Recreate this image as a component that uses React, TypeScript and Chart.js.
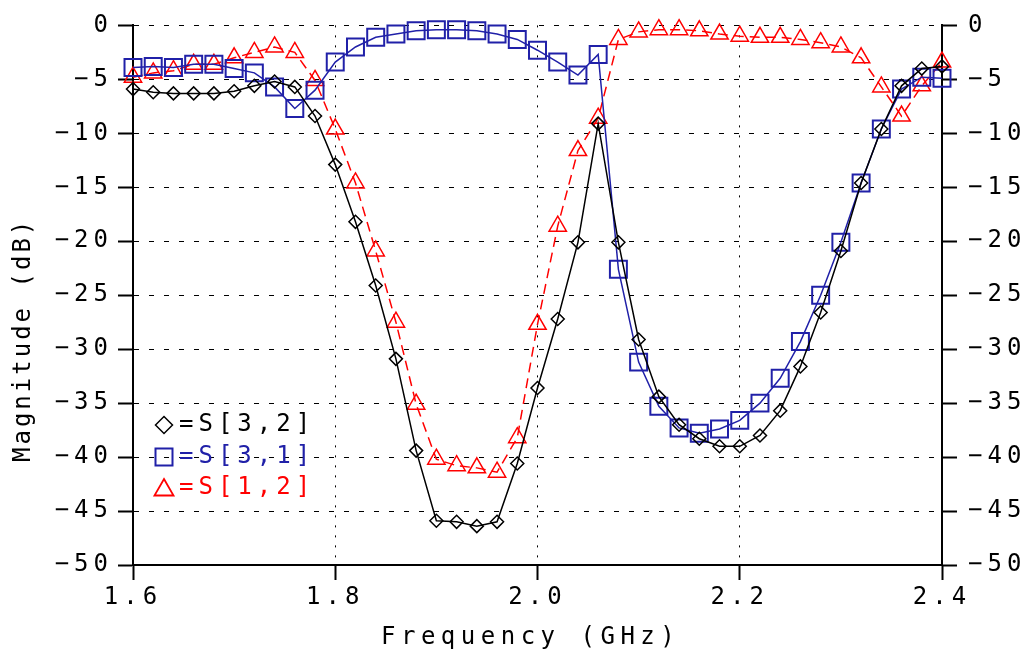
import React, { useEffect, useRef } from 'react';
import { Chart, registerables } from 'chart.js';

Chart.register(...registerables);

const FONT = '"DejaVu Sans Mono", monospace';

// Frequency points (GHz)
const freqGHz = [
  1.60, 1.62, 1.64, 1.66, 1.68, 1.70, 1.72, 1.74, 1.76, 1.78,
  1.80, 1.82, 1.84, 1.86, 1.88, 1.90, 1.92, 1.94, 1.96, 1.98,
  2.00, 2.02, 2.04, 2.06, 2.08, 2.10, 2.12, 2.14, 2.16, 2.18,
  2.20, 2.22, 2.24, 2.26, 2.28, 2.30, 2.32, 2.34, 2.36, 2.38, 2.40,
];

// S[3,2] magnitude (dB)
const s32 = [
  -5.9, -6.2, -6.3, -6.3, -6.3, -6.1, -5.6, -5.2, -5.7, -8.4,
  -12.9, -18.2, -24.1, -30.9, -39.4, -45.9, -46.0, -46.4, -46.0, -40.6,
  -33.6, -27.2, -20.1, -9.1, -20.1, -29.1, -34.4, -37.0, -38.3, -39.0,
  -39.0, -38.0, -35.7, -31.6, -26.6, -20.9, -14.6, -9.6, -5.6, -4.0, -3.8,
];

// S[3,1] magnitude (dB)
const s31 = [
  -3.9, -3.8, -3.9, -3.6, -3.6, -4.0, -4.4, -5.7, -7.7, -6.0,
  -3.4, -2.0, -1.1, -0.8, -0.5, -0.4, -0.4, -0.5, -0.8, -1.3,
  -2.3, -3.4, -4.6, -2.7, -22.6, -31.2, -35.3, -37.3, -37.8, -37.4,
  -36.6, -35.0, -32.7, -29.3, -25.0, -20.1, -14.6, -9.6, -5.9, -4.8, -4.9,
];

// S[1,2] magnitude (dB)
const s12 = [
  -4.8, -4.4, -4.2, -3.6, -3.6, -3.0, -2.5, -2.0, -2.5, -5.1,
  -9.6, -14.6, -20.9, -27.5, -35.1, -40.2, -40.8, -41.0, -41.4, -38.2,
  -27.7, -18.6, -11.6, -8.6, -1.3, -0.6, -0.4, -0.4, -0.5, -0.8,
  -1.0, -1.1, -1.1, -1.3, -1.6, -2.0, -3.0, -5.7, -8.4, -5.6, -3.4,
];

const seriesLabels = ['S[3,2]', 'S[3,1]', 'S[1,2]'];
const seriesColors = ['#000000', '#2020a8', '#ff0000'];

const xTickValues = [1.6, 1.8, 2.0, 2.2, 2.4];
const yTickValues = [0, -5, -10, -15, -20, -25, -30, -35, -40, -45, -50];

const xTitle = 'Frequency (GHz)';
const yTitle = 'Magnitude (dB)';

const fmtY = (v: any) => {
  const n = Number(v);
  return n < 0 ? '\u2212' + Math.abs(n) : String(n);
};

function drawMarker(ctx: CanvasRenderingContext2D, kind: number, x: number, y: number) {
  ctx.beginPath();
  if (kind === 0) {
    const r = 8.5;
    ctx.moveTo(x - r, y);
    ctx.lineTo(x, y - r);
    ctx.lineTo(x + r, y);
    ctx.lineTo(x, y + r);
    ctx.closePath();
    ctx.lineWidth = 1.5;
  } else if (kind === 1) {
    const h = 8.5;
    ctx.rect(x - h, y - h, 2 * h, 2 * h);
    ctx.lineWidth = 2;
  } else {
    const r = 11;
    ctx.moveTo(x, y - r);
    ctx.lineTo(x + r * 0.866, y + r / 2);
    ctx.lineTo(x - r * 0.866, y + r / 2);
    ctx.closePath();
    ctx.lineWidth = 1.8;
  }
  ctx.stroke();
}

const decorPlugin = {
  id: 'decor',
  beforeDraw(chart: any) {
    (chart.ctx as any).letterSpacing = '5px';
  },
  afterDraw(chart: any) {
    const ctx: CanvasRenderingContext2D = chart.ctx;
    ctx.save();
    ctx.font = `24px ${FONT}`;
    ctx.fillStyle = '#000';
    ctx.textBaseline = 'middle';
    ctx.textAlign = 'left';
    (ctx as any).letterSpacing = '5.5px';
    ctx.fillText(xTitle, 381, 638);
    ctx.save();
    (ctx as any).letterSpacing = '3px';
    ctx.translate(24, 462);
    ctx.rotate(-Math.PI / 2);
    ctx.fillText(yTitle, 0, 0);
    ctx.restore();

    // legend inside plot
    (ctx as any).letterSpacing = '5px';
    const rows = [425, 457, 488];
    for (let i = 0; i < seriesLabels.length; i++) {
      ctx.strokeStyle = seriesColors[i];
      ctx.fillStyle = seriesColors[i];
      drawMarker(ctx, i, 164, rows[i] + (i === 2 ? 2 : 0));
      ctx.fillText('=' + seriesLabels[i], 179, rows[i]);
    }
    ctx.restore();
  },
};

export default function App() {
  const canvasRef = useRef<HTMLCanvasElement | null>(null);

  useEffect(() => {
    document.body.style.margin = '0';
    const canvas = canvasRef.current;
    if (!canvas) return;

    const mk = (ys: number[]) => freqGHz.map((x, i) => ({ x, y: ys[i] }));

    const chart = new Chart(canvas, {
      type: 'line',
      data: {
        datasets: [
          {
            label: seriesLabels[0],
            data: mk(s32),
            borderColor: seriesColors[0],
            borderWidth: 1.5,
            pointStyle: 'rectRot',
            pointRadius: 6.5,
            pointBorderWidth: 1.5,
            pointBorderColor: seriesColors[0],
            pointBackgroundColor: 'rgba(0,0,0,0)',
            tension: 0,
            clip: 20,
          },
          {
            label: seriesLabels[1],
            data: mk(s31),
            borderColor: seriesColors[1],
            borderWidth: 1.5,
            pointStyle: 'rect',
            pointRadius: 12,
            pointBorderWidth: 2,
            pointBorderColor: seriesColors[1],
            pointBackgroundColor: 'rgba(0,0,0,0)',
            tension: 0,
            clip: 20,
          },
          {
            label: seriesLabels[2],
            data: mk(s12),
            borderColor: seriesColors[2],
            borderWidth: 1.5,
            borderDash: [10, 6],
            pointStyle: 'triangle',
            pointRadius: 10,
            pointBorderWidth: 1.5,
            pointBorderColor: seriesColors[2],
            pointBackgroundColor: 'rgba(0,0,0,0)',
            tension: 0,
            clip: 20,
          },
        ],
      } as any,
      options: {
        responsive: false,
        animation: false,
        events: [],
        layout: { padding: { top: 21, left: 0, right: 0, bottom: 0 } },
        plugins: {
          legend: { display: false },
          tooltip: { enabled: false },
          title: { display: false },
        },
        scales: {
          x: {
            type: 'linear',
            position: 'bottom',
            min: 1.6,
            max: 2.4,
            afterBuildTicks: (s: any) => {
              s.ticks = xTickValues.map((v) => ({ value: v }));
            },
            afterFit: (s: any) => {
              s.height = 93;
            },
            ticks: {
              autoSkip: false,
              maxRotation: 0,
              padding: 3,
              color: '#000',
              font: { family: FONT, size: 24 },
              callback: (v: any) => Number(v).toFixed(1),
            },
            grid: {
              color: '#000',
              lineWidth: 1,
              tickLength: 15,
              tickWidth: 2,
              tickColor: '#000',
              tickBorderDash: [],
            },
            border: { display: true, color: '#000', width: 2, dash: [2, 8] },
          },
          y: {
            type: 'linear',
            position: 'left',
            min: -50,
            max: 0,
            afterBuildTicks: (s: any) => {
              s.ticks = yTickValues.map((v) => ({ value: v }));
            },
            afterFit: (s: any) => {
              s.width = 133;
            },
            ticks: {
              autoSkip: false,
              padding: 5,
              color: '#000',
              font: { family: FONT, size: 24 },
              callback: fmtY,
            },
            grid: {
              color: '#000',
              lineWidth: 1,
              tickLength: 15,
              tickWidth: 2,
              tickColor: '#000',
              tickBorderDash: [],
            },
            border: { display: true, color: '#000', width: 2, dash: [5, 10] },
          },
          yRight: {
            type: 'linear',
            position: 'right',
            min: -50,
            max: 0,
            afterBuildTicks: (s: any) => {
              s.ticks = yTickValues.map((v) => ({ value: v }));
            },
            afterFit: (s: any) => {
              s.width = 92;
            },
            ticks: {
              autoSkip: false,
              padding: 11,
              color: '#000',
              font: { family: FONT, size: 24 },
              callback: fmtY,
            },
            grid: {
              drawOnChartArea: false,
              color: '#000',
              tickLength: 15,
              tickWidth: 2,
              tickColor: '#000',
              tickBorderDash: [],
            },
            border: { display: true, color: '#000', width: 2 },
          },
        },
      } as any,
      plugins: [decorPlugin],
    });

    return () => {
      chart.destroy();
    };
  }, []);

  return (
    <div style={{ width: 1034, height: 658 }}>
      <canvas ref={canvasRef} width={1034} height={658} style={{ display: 'block' }} />
    </div>
  );
}
